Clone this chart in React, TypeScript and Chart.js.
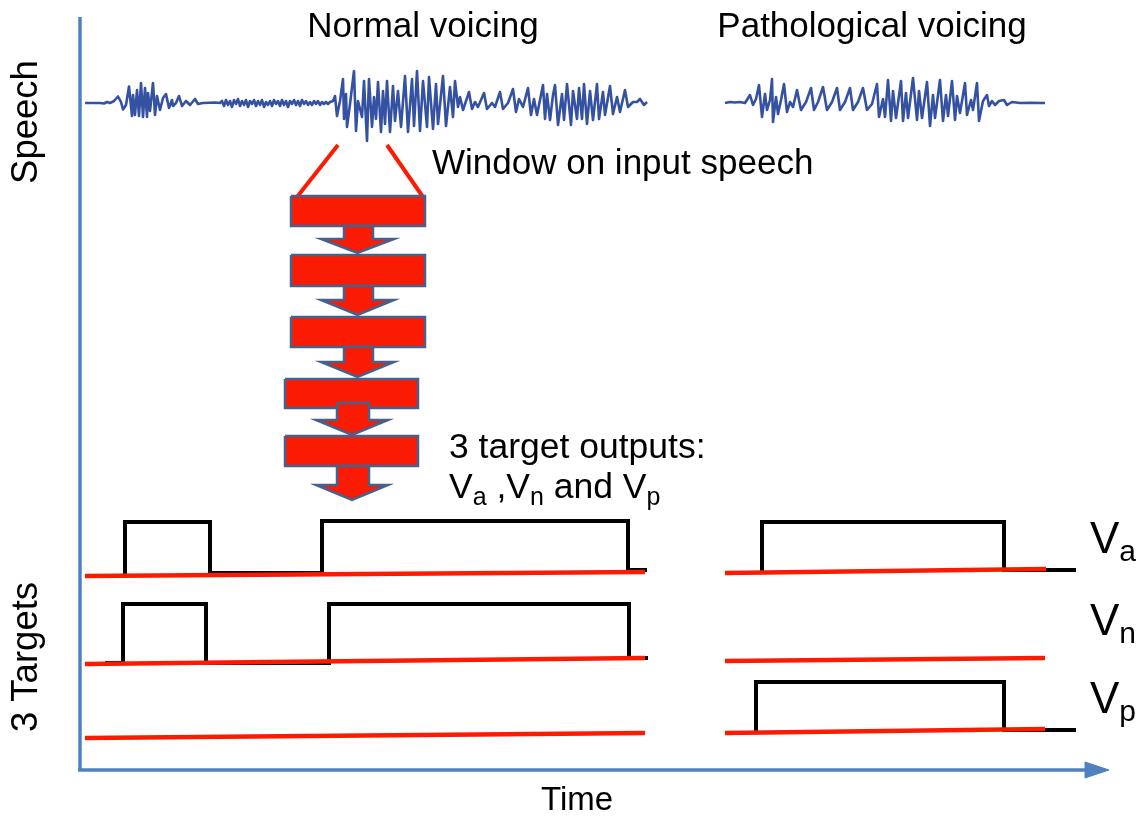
import React, { useEffect, useRef } from "react";
import { Chart, registerables } from "chart.js";

Chart.register(...registerables);

// Scales: time runs along the bottom axis (axis origin at 0), level runs up the left axis (axis origin at 0)
const TIME_MIN = -80;
const TIME_MAX = 1059;
const LEVEL_MIN = -46;
const LEVEL_MAX = 770;
const AXIS_TOP = 753;

// ---- speech waveforms (time, amplitude about the speech baseline) ----
const SPEECH_BASELINE = 667;
const normalTime = [5, 20, 24, 27, 30, 34, 38, 41, 43, 46, 49, 52, 53, 55, 57, 59, 61, 63, 65, 67, 68, 70, 73, 75, 77, 80, 83, 86, 89, 92, 93, 96, 99, 102, 106, 110, 115, 118, 123, 135, 140,
  142, 144, 146, 148, 150, 152, 154, 156, 158, 160, 162, 164, 166, 168, 170, 172, 174, 176, 178, 180, 182, 184, 186, 188, 190, 192, 194, 196, 198, 200, 202, 204, 206, 208, 210, 212, 214, 216, 218, 220, 222, 224, 226, 228, 230, 232, 234, 236, 238, 240, 242, 244, 246, 248, 250, 253,
  255, 257, 260, 263, 264, 266, 267, 270, 274, 276, 278, 282, 284, 287, 289, 292, 294, 296, 298, 301, 303, 305, 307, 310, 313, 315, 318, 321, 325, 328, 332, 334, 337, 340, 343, 347, 349, 353, 356, 358, 363, 366, 370, 373, 375, 378,
  380, 383, 386, 389, 392, 395, 398, 404, 407, 412, 415, 420, 423, 428, 433, 436, 439, 443, 448, 451, 454, 457, 463, 465, 467, 470, 473, 475, 478, 482, 484, 487, 491, 493, 497, 499, 502, 504, 507, 510, 513, 517, 519, 523, 525, 530, 533, 537, 540, 545, 548, 553, 557, 560, 564, 567];
const normalAmp = [0, 0, -0.5, 1, 0, 2, 6.5, 1, -6.5, -2, 16.5, -13, 8, -12, 13, -13, 20, -14, 15, -14, 10, -8, 20, -12, 7, -7, 5, 9, -5, 3, -3, 0, 7, -3, 2, -2, 4, -1, 0, 0.5, 0,
  2, -3, 3, -2, 2, -4, 3, -1, 4, -3, 2, -2, 3, -4, 2, -1, 3, -3, 2, -2, 3, -4, 1, -2, 2, -3, 3, -1, 2, -3, 3, -2, 2, -4, 2, -1, 3, -2, 2, -3, 3, -1, 2, -2, 1, -2, 2, -1, 2, -2, 1, -1, 1, -1, 1, 2,
  7, -13, 2, 24, -16, 9, -24, -1, 32, -28, 2, -14, 22, -38, 24, -24, 6, -16, 21, -29, 12, -21, 22, -29, 17, -18, 12, -24, 27, -29, 24, -23, 32, -28, 22, -24, 26, -26, 19, -21, 27, -23, 16, -14, 22, -4,
  6, -7, 2, 11, -6, 1, -4, 10, -6, 0, -4, 11, -6, 0, 14, -9, 4, -4, 15, -12, 4, -12, 18, -16, 9, -17, 8, 18, -22, 9, -17, 19, -22, 12, -16, 15, -16, 19, -21, 12, -17, 19, -16, 11, -12, 17, -11, 6, -9, 13, -4, 1, 1, 4, -2, 1];

const pathTime = [645, 650, 655, 660, 665, 670, 673, 676, 679, 682, 685, 687, 690, 692, 693, 696, 698, 701, 704, 707, 710, 713, 717, 721, 726, 731, 734, 738, 743, 747, 752, 757, 760, 765, 770, 773, 778, 783, 787, 792, 797, 799, 803, 805,
  808, 811, 813, 816, 821, 823, 826, 828, 833, 837, 839, 842, 847, 850, 853, 855, 860, 863, 866, 868, 872, 875, 877, 880, 885, 887, 891, 893, 897, 899, 903, 907, 909, 912, 915, 919, 924, 927, 932, 940, 950, 965];
const pathAmp = [0, 1, 0.5, 1, 0, 8, -2, 4, 18, -14, 9, -7, 3, 24, -19, 6, -11, 3, 19, -9, 1, -4, 13, -7, 1, 15, -7, 1, 16, -7, 1, 15, -7, 1, 15, -7, 1, 15, -7, -1, 19, -14, 4, -14,
  23, -18, 12, -15, 22, -18, 10, -15, 25, -17, 12, -15, 21, -23, 8, -15, 23, -18, 8, -13, 22, -17, 7, -10, 20, -12, 3, -7, 20, -18, 2, 8, -3, 2, -2, 2, 3, -2, 1, 0, 0.3, 0];

// ---- network: window on the speech, five layers and arrows between them ----
const windowTimes = [[258, 217], [307, 343]];
const windowLevels = [[625, 573], [625, 573]];
const layerLeft = [211, 211, 211, 205, 205];
const layerRight = [345, 345, 345, 338, 338];
const layerBottom = [544, 484, 423, 362, 304];
const layerTop = [574, 515, 453, 391, 334];
const arrowShaftLeft = [264, 264, 264, 257, 257];
const arrowShaftRight = [293, 293, 293, 289, 289];
const arrowHeadLeft = [241, 241, 241, 236, 236];
const arrowHeadRight = [314, 314, 314, 308, 308];
const arrowTopLevel = [544, 484, 423, 367, 304];
const arrowNeckLevel = [531, 470, 408, 350, 285];
const arrowTipLevel = [517, 455, 393, 335, 270];

// ---- targets: red baselines and black target outputs ----
const redLineTimes = [[5, 565], [5, 565], [5, 565], [645, 966], [645, 965], [645, 965]];
const redLineLevels = [[194, 198], [106, 112], [32, 37], [197, 201], [109, 112], [37, 41]];
const vaNormalTimes = [45, 45, 130, 130, 242, 242, 548, 548, 567];
const vaNormalLevels = [196, 248, 248, 197, 197, 249, 249, 200, 200];
const vnNormalTimes = [25, 43, 43, 126, 126, 249, 249, 549, 549, 568];
const vnNormalLevels = [107, 107, 166, 166, 107, 107, 166, 166, 112, 112];
const vaPathTimes = [682, 682, 924, 924, 996];
const vaPathLevels = [199, 248, 248, 200, 200];
const vpPathTimes = [676, 676, 924, 924, 996];
const vpPathLevels = [39, 88, 88, 40, 40];

// ---- text ----
const headings = ["Normal voicing", "Pathological voicing"];
const headingTimes = [343, 792];
const headingLevel = 733;
const axisTitles = ["Speech", "3 Targets"];
const axisTitleLevels = [648, 113];
const timeTitle = "Time";
const windowLabel = "Window on input speech";
const outputsLine1 = "3 target outputs:";
const outputsLine2 = [
  { t: "V", sub: false }, { t: "a", sub: true }, { t: " ,V", sub: false }, { t: "n", sub: true },
  { t: " and V", sub: false }, { t: "p", sub: true },
];
const targetLabels = [["V", "a"], ["V", "n"], ["V", "p"]];
const targetLabelLevels = [217, 135, 57];

const FONT = '"Liberation Sans", Arial, Helvetica, sans-serif';
const AXIS_BLUE = "#4f81bd";
const WAVE_BLUE = "#3451a2";
const RED = "#fb1b03";
const LAYER_EDGE = "#44628e";

const pts = (ts: number[], ls: number[]) => ts.map((t, i) => ({ x: t, y: ls[i] }));

function line(data: any[], color: string, width: number, extra: any = {}) {
  return {
    data,
    borderColor: color,
    backgroundColor: color,
    borderWidth: width,
    pointRadius: 0,
    tension: 0,
    fill: false,
    clip: false,
    borderJoinStyle: "miter",
    borderCapStyle: "butt",
    ...extra,
  };
}

function drawRuns(ctx: CanvasRenderingContext2D, runs: { t: string; sub: boolean }[], x: number, y: number, size: number, subSize: number, subDrop: number) {
  let cx = x;
  runs.forEach((r) => {
    ctx.font = `${r.sub ? subSize : size}px ${FONT}`;
    ctx.fillText(r.t, cx, r.sub ? y + subDrop : y);
    cx += ctx.measureText(r.t).width;
  });
}

const textPlugin = {
  id: "diagramText",
  afterDraw(chart: any) {
    const ctx: CanvasRenderingContext2D = chart.ctx;
    const xs = chart.scales.x;
    const ys = chart.scales.y;
    const X = (v: number) => xs.getPixelForValue(v);
    const Y = (v: number) => ys.getPixelForValue(v);
    ctx.save();
    ctx.fillStyle = "#000";
    ctx.textBaseline = "alphabetic";
    ctx.font = `35px ${FONT}`;
    ctx.textAlign = "center";
    headings.forEach((h, i) => ctx.fillText(h, X(headingTimes[i]), Y(headingLevel)));
    ctx.font = `33px ${FONT}`;
    ctx.fillText(timeTitle, X(497), Y(-40));
    ctx.font = `36.5px ${FONT}`;
    axisTitles.forEach((a, i) => {
      ctx.save();
      ctx.translate(X(-43), Y(axisTitleLevels[i]));
      ctx.rotate(-Math.PI / 2);
      ctx.fillText(a, 0, 0);
      ctx.restore();
    });
    ctx.textAlign = "left";
    ctx.font = `35px ${FONT}`;
    ctx.fillText(windowLabel, X(352), Y(596));
    ctx.font = `35.5px ${FONT}`;
    ctx.fillText(outputsLine1, X(369), Y(312));
    drawRuns(ctx, outputsLine2, X(369), Y(272), 35.5, 25, 7);
    targetLabels.forEach((lab, i) => {
      drawRuns(ctx, [{ t: lab[0], sub: false }, { t: lab[1], sub: true }], X(1010), Y(targetLabelLevels[i]), 44, 30, 8);
    });
    ctx.restore();
  },
};

export default function App() {
  const ref = useRef<HTMLCanvasElement>(null);
  useEffect(() => {
    const seq: any[] = [];
    // axes
    seq.push(line(pts([0, 0], [-1, AXIS_TOP]), AXIS_BLUE, 3.5));
    seq.push(line(pts([-2, 1008], [0, 0]), AXIS_BLUE, 3.5));
    seq.push(line(pts([1005, 1029, 1005, 1005], [8, 0, -8, 8]), AXIS_BLUE, 1, { fill: "shape" }));
    // speech
    seq.push(line(pts(normalTime, normalAmp.map((a) => SPEECH_BASELINE + a)), WAVE_BLUE, 2.6, { borderJoinStyle: "round" }));
    seq.push(line(pts(pathTime, pathAmp.map((a) => SPEECH_BASELINE + a)), WAVE_BLUE, 2.6, { borderJoinStyle: "round" }));
    // window
    windowTimes.forEach((ts, i) => seq.push(line(pts(ts, windowLevels[i]), RED, 4)));
    // layers + arrows
    layerLeft.forEach((_, i) => {
      seq.push(line(pts(
        [layerLeft[i], layerRight[i], layerRight[i], layerLeft[i], layerLeft[i]],
        [layerTop[i], layerTop[i], layerBottom[i], layerBottom[i], layerTop[i]]),
        LAYER_EDGE, 2.5, { fill: "shape", backgroundColor: RED }));
      const tip = (arrowHeadLeft[i] + arrowHeadRight[i]) / 2;
      seq.push(line(pts(
        [arrowShaftLeft[i], arrowShaftRight[i], arrowShaftRight[i], arrowHeadRight[i], tip, arrowHeadLeft[i], arrowShaftLeft[i], arrowShaftLeft[i]],
        [arrowTopLevel[i], arrowTopLevel[i], arrowNeckLevel[i], arrowNeckLevel[i], arrowTipLevel[i], arrowNeckLevel[i], arrowNeckLevel[i], arrowTopLevel[i]]),
        LAYER_EDGE, 2.5, { fill: "shape", backgroundColor: RED }));
    });
    // target outputs (black) then baselines (red)
    seq.push(line(pts(vaNormalTimes, vaNormalLevels), "#000", 4));
    seq.push(line(pts(vnNormalTimes, vnNormalLevels), "#000", 4));
    seq.push(line(pts(vaPathTimes, vaPathLevels), "#000", 4));
    seq.push(line(pts(vpPathTimes, vpPathLevels), "#000", 4));
    redLineTimes.forEach((ts, i) => seq.push(line(pts(ts, redLineLevels[i]), RED, 4.5)));

    const datasets = seq.map((d, i) => ({ ...d, order: seq.length - i }));

    const chart = new Chart(ref.current as HTMLCanvasElement, {
      type: "line",
      data: { datasets },
      options: {
        animation: false,
        responsive: false,
        events: [],
        layout: { padding: 0 },
        plugins: { legend: { display: false }, tooltip: { enabled: false }, title: { display: false } },
        scales: {
          x: { type: "linear", min: TIME_MIN, max: TIME_MAX, display: false },
          y: { type: "linear", min: LEVEL_MIN, max: LEVEL_MAX, display: false },
        },
      },
      plugins: [textPlugin],
    } as any);
    return () => chart.destroy();
  }, []);
  return (
    <div style={{ position: "absolute", left: 0, top: 0, width: 1139, height: 816, background: "#fff" }}>
      <canvas ref={ref} width={1139} height={816} style={{ display: "block", width: 1139, height: 816 }} />
    </div>
  );
}
